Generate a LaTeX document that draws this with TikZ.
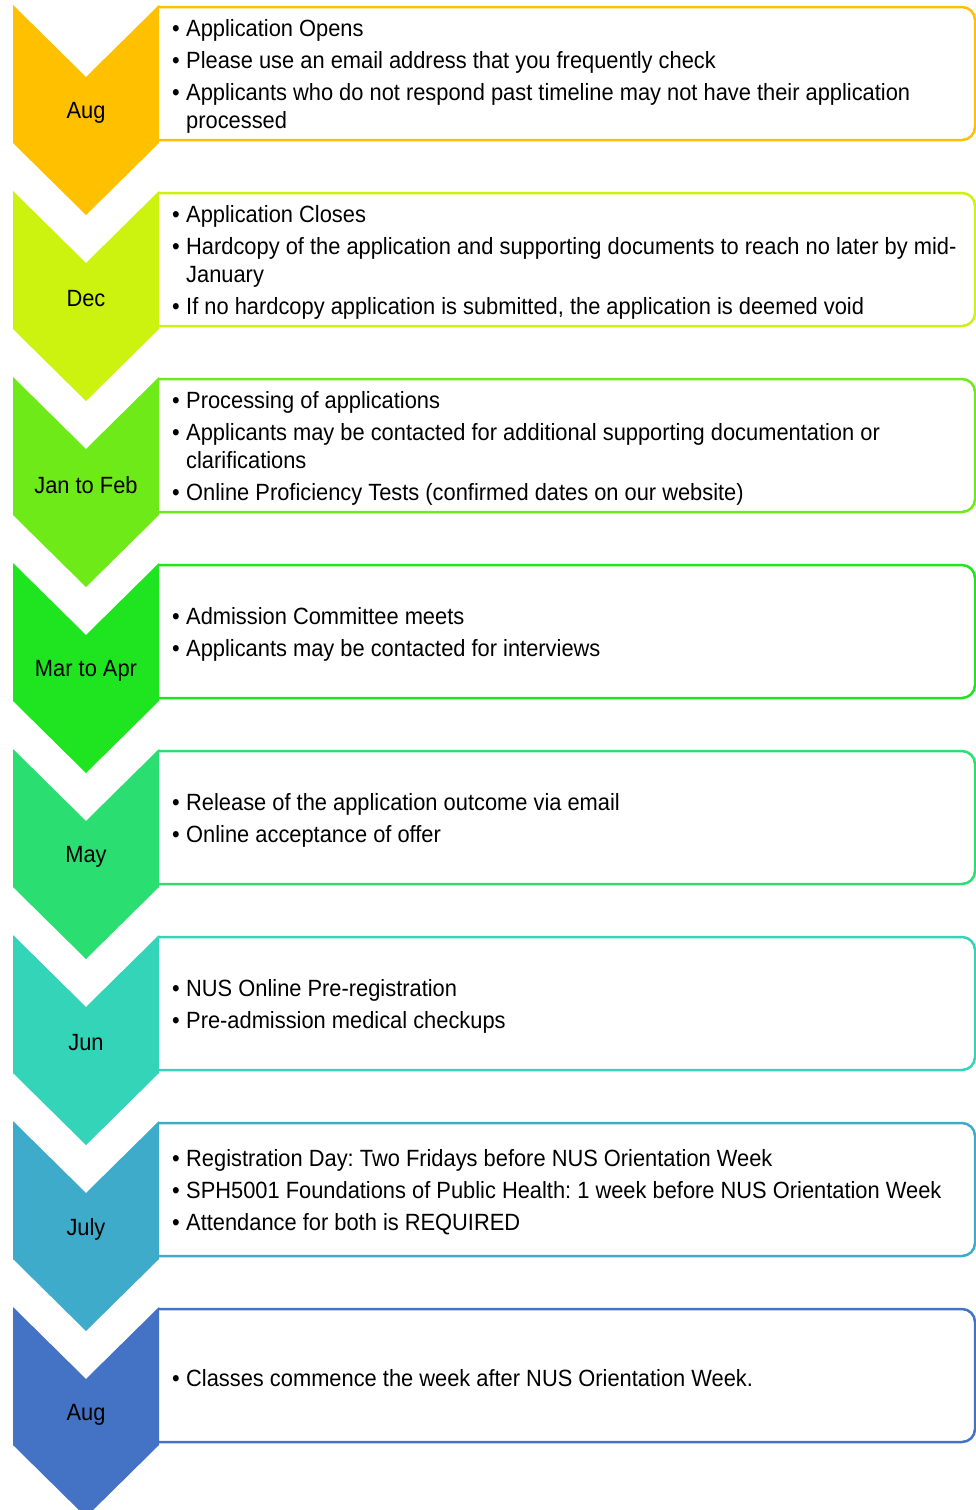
\documentclass[tikz,border=0pt]{standalone}
\usepackage{fontspec}
\setmainfont{Liberation Sans}[FakeStretch=0.93]
\usepackage{xcolor}
\usepackage{tikz}

\definecolor{cAug}{HTML}{FFC000}
\definecolor{cDec}{HTML}{CCF20F}
\definecolor{cJan}{HTML}{6FEA19}
\definecolor{cMar}{HTML}{1FE520}
\definecolor{cMay}{HTML}{2BDE72}
\definecolor{cJun}{HTML}{33D4B8}
\definecolor{cJul}{HTML}{3DABC9}
\definecolor{cSep}{HTML}{4472C4}

\newcommand{\bul}{\makebox[14pt][l]{\textbullet}}
\newcommand{\cnt}{\hspace*{14pt}}
\newcommand{\phase}[4]{%
  \pgfmathsetmacro{\ytop}{5+186*#1}
  \draw[#2, line width=2.5pt, rounded corners=13pt] (159,\ytop+2) -- (975,\ytop+2) -- (975,\ytop+135) -- (159,\ytop+135);
  \fill[#2] (13,\ytop) -- ++(73,72) -- ++(73,-72) -- ++(0,138) -- ++(-73,72) -- ++(-73,-72) -- cycle;
  \node (m#1) at (86,\ytop+108) {#3};
  \node (t#1) [anchor=west, align=left, inner sep=0pt] at (172,\ytop+71) {#4};
}

\begin{document}
\frenchspacing
\begin{tikzpicture}[x=1pt,y=-1pt,font=\fontsize{23.5}{28}\selectfont]
\useasboundingbox (0,0) rectangle (976,1510);
\phase{0}{cAug}{Aug}{\bul Application Opens\\[4pt]
  \bul Please use an email address that you frequently check\\[4pt]
  \bul Applicants who do not respond past timeline may not have their application\\
  \cnt processed}
\phase{1}{cDec}{Dec}{\bul Application Closes\\[4pt]
  \bul Hardcopy of the application and supporting documents to reach no later by mid-\\
  \cnt January\\[4pt]
  \bul If no hardcopy application is submitted, the application is deemed void}
\phase{2}{cJan}{Jan to Feb}{\bul Processing of applications\\[4pt]
  \bul Applicants may be contacted for additional supporting documentation or\\
  \cnt clarifications\\[4pt]
  \bul Online Proficiency Tests (confirmed dates on our website)}
\phase{3}{cMar}{Mar to Apr}{\bul Admission Committee meets\\[4pt]
  \bul Applicants may be contacted for interviews}
\phase{4}{cMay}{May}{\bul Release of the application outcome via email\\[4pt]
  \bul Online acceptance of offer}
\phase{5}{cJun}{Jun}{\bul NUS Online Pre-registration\\[4pt]
  \bul Pre-admission medical checkups}
\phase{6}{cJul}{July}{\bul Registration Day: Two Fridays before NUS Orientation Week\\[4pt]
  \bul SPH5001 Foundations of Public Health: 1 week before NUS Orientation Week\\[4pt]
  \bul Attendance for both is REQUIRED}
\phase{7}{cSep}{Aug}{\bul Classes commence the week after NUS Orientation Week.}
\end{tikzpicture}
\end{document}
